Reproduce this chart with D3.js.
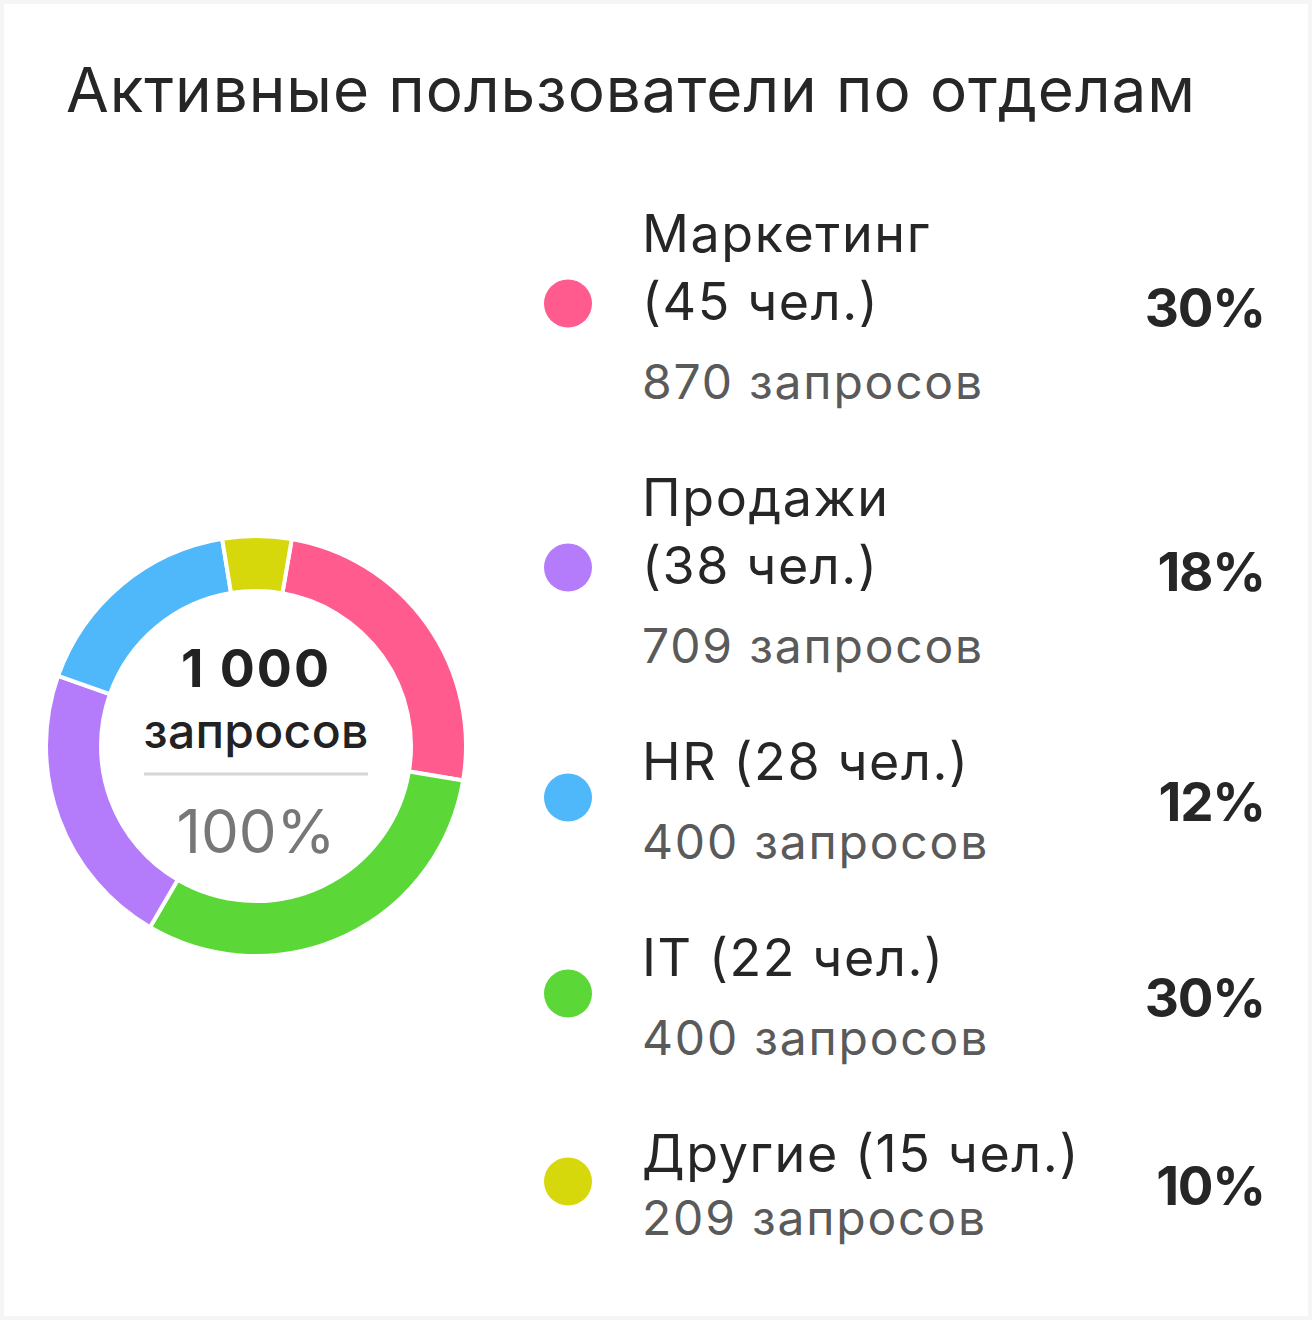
<!DOCTYPE html>
<html>
<head>
<meta charset="utf-8">
<script src="https://cdn.jsdelivr.net/npm/d3@7"></script>
<style>
  html, body { margin: 0; padding: 0; background: #f5f5f5; }
  svg { display: block; font-family: Inter, "Noto Sans", sans-serif; }
</style>
</head>
<body>
<script>
// data
const departments = ["Маркетинг", "Продажи", "HR", "IT", "Другие"]
const people      = [45, 38, 28, 22, 15]
const requests    = [870, 709, 400, 400, 209]
const shares      = [30, 18, 12, 30, 10]
// slice sizes as drawn in the ring (they don't follow the % column)
const arcValues   = [24.9, 22.0, 17.0, 30.8, 5.3]
const arcOrder    = [0, 3, 1, 2, 4]   // clockwise from the top
const colors      = ["#ff5b8e", "#b47cfb", "#4fb8fa", "#5bd737", "#d7d80c"]
const centerTotal = "1 000"
const centerUnit  = "запросов"
const centerShare = "100%"
const title       = "Активные пользователи по отделам"

svg_w = 1312
svg_h = 1320

var svg = d3.select("body")
        .append("svg")
        .attr("width", svg_w)
        .attr("height", svg_h)

// card
svg.append("rect")
   .attr("x", 4).attr("y", 4)
   .attr("width", svg_w - 8).attr("height", svg_h - 8)
   .attr("fill", "#fff")

svg.append("text")
   .attr("x", 66).attr("y", 112)
   .attr("font-size", 62)
   .attr("letter-spacing", 0.95)
   .attr("fill", "#262626")
   .text(title)

// donut
var cx = 256, cy = 746
var ring = svg.append("g").attr("transform", "translate(" + cx + "," + cy + ")")

var start = 9.8 * Math.PI / 180
var pie = d3.pie()
        .sort(null)
        .value(d => arcValues[d])
        .startAngle(start)
        .endAngle(start + 2 * Math.PI)

var arc = d3.arc().innerRadius(155).outerRadius(210)

ring.selectAll("path")
    .data(pie(arcOrder))
    .enter()
    .append("path")
    .attr("d", arc)
    .attr("fill", d => colors[d.data])
    .attr("stroke", "#fff")
    .attr("stroke-width", 4)

ring.append("text")
    .attr("y", -59).attr("text-anchor", "middle")
    .attr("font-size", 52).attr("font-weight", 700).attr("fill", "#222")
    .attr("letter-spacing", 2)
    .text(centerTotal)
ring.append("text")
    .attr("y", 2).attr("text-anchor", "middle")
    .attr("font-size", 48).attr("font-weight", 500).attr("fill", "#222")
    .attr("letter-spacing", 0.3)
    .text(centerUnit)
ring.append("line")
    .attr("x1", -112).attr("x2", 112)
    .attr("y1", 28).attr("y2", 28)
    .attr("stroke", "#d6d6d6").attr("stroke-width", 3)
ring.append("text")
    .attr("y", 107).attr("text-anchor", "middle")
    .attr("font-size", 60).attr("font-weight", 400).attr("fill", "#777")
    .text(centerShare)

// legend
var textX = 642, dotX = 568, pctX = 1265
var maxW = 450
var nameLH = 68, subGap = 79, lastSubGap = 63, rowGap = 117, capH = 37
var nameSize = 52, nameLS = 1.6, subSize = 48, subLS = 1.8
var legend = svg.append("g")

// split a label into lines that fit maxW
function wrap(str) {
    var probe = legend.append("text")
        .attr("font-size", nameSize).attr("letter-spacing", nameLS)
    var words = str.split(" "), lines = [], cur = ""
    words.forEach(w => {
        var tryS = cur ? cur + " " + w : w
        probe.text(tryS)
        if (cur && probe.node().getComputedTextLength() > maxW) {
            lines.push(cur); cur = w
        } else cur = tryS
    })
    lines.push(cur)
    probe.remove()
    return lines
}

var y = 252
departments.forEach((name, i) => {
    // keep "(NN чел.)" together
    var lines = wrap(name + " (" + people[i] + "\u00a0чел.)")
    var g = legend.append("g")
    lines.forEach((ln, k) => {
        g.append("text")
         .attr("x", textX).attr("y", y + k * nameLH)
         .attr("font-size", nameSize).attr("letter-spacing", nameLS)
         .attr("fill", "#262626")
         .text(ln)
    })
    var top = y - capH
    var sub = y + (lines.length - 1) * nameLH + (i === departments.length - 1 ? lastSubGap : subGap)
    g.append("text")
     .attr("x", textX).attr("y", sub)
     .attr("font-size", subSize).attr("letter-spacing", subLS)
     .attr("fill", "#5a5a5a")
     .text(requests[i] + " запросов")

    var dotY = (top + sub) / 2 - 3.5
    g.append("circle")
     .attr("cx", dotX).attr("cy", dotY).attr("r", 24)
     .attr("fill", colors[i])
    g.append("text")
     .attr("x", pctX).attr("y", dotY + 23)
     .attr("text-anchor", "end")
     .attr("font-size", 53).attr("font-weight", 700)
     .attr("letter-spacing", -1.2)
     .attr("fill", "#262626")
     .text(shares[i] + "%")

    y = sub + rowGap
})
</script>
</body>
</html>
